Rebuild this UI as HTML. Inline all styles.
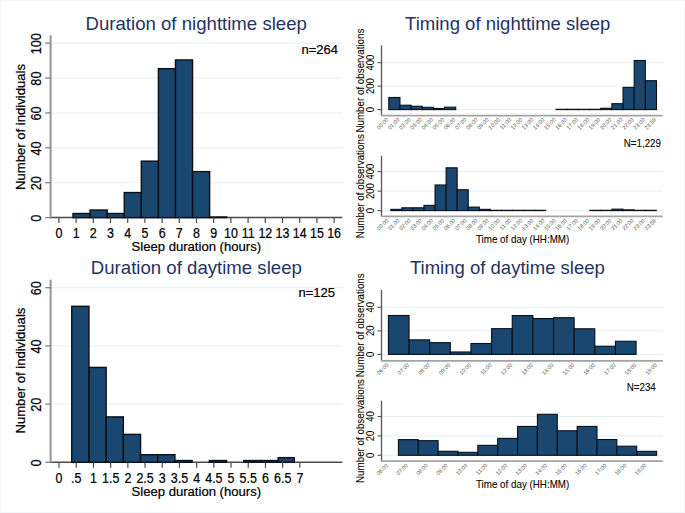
<!DOCTYPE html>
<html><head><meta charset="utf-8"><style>
html,body{margin:0;padding:0;background:#fff;}
svg{display:block;}
text{font-family:"Liberation Sans", sans-serif;}
</style></head><body>
<svg width="685" height="513" viewBox="0 0 685 513">
<rect x="0" y="0" width="685" height="513" fill="#fff"/>
<rect x="0.5" y="0.5" width="684" height="512" fill="none" stroke="#f4f6f8" stroke-width="1"/>
<text x="0" y="0" font-size="18.62" text-anchor="middle" fill="#253362" transform="translate(196.2 29.5) scale(1.0 1.03)">Duration of nighttime sleep</text>
<line x1="51.5" y1="182.7" x2="342.5" y2="182.7" stroke="#e7eff1" stroke-width="1"/>
<line x1="51.5" y1="147.8" x2="342.5" y2="147.8" stroke="#e7eff1" stroke-width="1"/>
<line x1="51.5" y1="112.9" x2="342.5" y2="112.9" stroke="#e7eff1" stroke-width="1"/>
<line x1="51.5" y1="78" x2="342.5" y2="78" stroke="#e7eff1" stroke-width="1"/>
<line x1="51.5" y1="43.1" x2="342.5" y2="43.1" stroke="#e7eff1" stroke-width="1"/>
<line x1="50" y1="217.6" x2="342.3" y2="217.6" stroke="#4a4a4a" stroke-width="1.5"/>
<rect x="73" y="213.51" width="17.08" height="4.09" fill="#1a476f" stroke="#0a0f16" stroke-width="1.4"/>
<rect x="90.08" y="210.02" width="17.08" height="7.58" fill="#1a476f" stroke="#0a0f16" stroke-width="1.4"/>
<rect x="107.16" y="213.51" width="17.08" height="4.09" fill="#1a476f" stroke="#0a0f16" stroke-width="1.4"/>
<rect x="124.24" y="192.57" width="17.08" height="25.03" fill="#1a476f" stroke="#0a0f16" stroke-width="1.4"/>
<rect x="141.32" y="161.16" width="17.08" height="56.44" fill="#1a476f" stroke="#0a0f16" stroke-width="1.4"/>
<rect x="158.4" y="68.68" width="17.08" height="148.92" fill="#1a476f" stroke="#0a0f16" stroke-width="1.4"/>
<rect x="175.48" y="59.95" width="17.08" height="157.65" fill="#1a476f" stroke="#0a0f16" stroke-width="1.4"/>
<rect x="192.56" y="171.63" width="17.08" height="45.97" fill="#1a476f" stroke="#0a0f16" stroke-width="1.4"/>
<rect x="209.64" y="217" width="17.08" height="0.6" fill="#1a476f" stroke="#0a0f16" stroke-width="1.4"/>
<line x1="50.6" y1="35.3" x2="50.6" y2="218.4" stroke="#999" stroke-width="2.1"/>
<line x1="45.2" y1="217.6" x2="50.7" y2="217.6" stroke="#7a7a7a" stroke-width="1.2"/>
<text x="0" y="0" font-size="13.1" text-anchor="middle" fill="#000" stroke="#000" stroke-width="0.22" transform="translate(40.6 218.2) rotate(-90) scale(0.97 1.1)">0</text>
<line x1="45.2" y1="182.7" x2="50.7" y2="182.7" stroke="#7a7a7a" stroke-width="1.2"/>
<text x="0" y="0" font-size="13.1" text-anchor="middle" fill="#000" stroke="#000" stroke-width="0.22" transform="translate(40.6 183.3) rotate(-90) scale(0.97 1.1)">20</text>
<line x1="45.2" y1="147.8" x2="50.7" y2="147.8" stroke="#7a7a7a" stroke-width="1.2"/>
<text x="0" y="0" font-size="13.1" text-anchor="middle" fill="#000" stroke="#000" stroke-width="0.22" transform="translate(40.6 148.4) rotate(-90) scale(0.97 1.1)">40</text>
<line x1="45.2" y1="112.9" x2="50.7" y2="112.9" stroke="#7a7a7a" stroke-width="1.2"/>
<text x="0" y="0" font-size="13.1" text-anchor="middle" fill="#000" stroke="#000" stroke-width="0.22" transform="translate(40.6 113.5) rotate(-90) scale(0.97 1.1)">60</text>
<line x1="45.2" y1="78" x2="50.7" y2="78" stroke="#7a7a7a" stroke-width="1.2"/>
<text x="0" y="0" font-size="13.1" text-anchor="middle" fill="#000" stroke="#000" stroke-width="0.22" transform="translate(40.6 78.6) rotate(-90) scale(0.97 1.1)">80</text>
<line x1="45.2" y1="43.1" x2="50.7" y2="43.1" stroke="#7a7a7a" stroke-width="1.2"/>
<text x="0" y="0" font-size="13.1" text-anchor="middle" fill="#000" stroke="#000" stroke-width="0.22" transform="translate(40.6 43.7) rotate(-90) scale(0.97 1.1)">100</text>
<line x1="58.9" y1="217.6" x2="58.9" y2="223.1" stroke="#4a4a4a" stroke-width="1.2"/>
<text x="0" y="0" font-size="13.1" text-anchor="middle" fill="#000" stroke="#000" stroke-width="0.22" transform="translate(58.9 237.5) scale(0.95 1.1)">0</text>
<line x1="76.1" y1="217.6" x2="76.1" y2="223.1" stroke="#4a4a4a" stroke-width="1.2"/>
<text x="0" y="0" font-size="13.1" text-anchor="middle" fill="#000" stroke="#000" stroke-width="0.22" transform="translate(76.1 237.5) scale(0.95 1.1)">1</text>
<line x1="93.3" y1="217.6" x2="93.3" y2="223.1" stroke="#4a4a4a" stroke-width="1.2"/>
<text x="0" y="0" font-size="13.1" text-anchor="middle" fill="#000" stroke="#000" stroke-width="0.22" transform="translate(93.3 237.5) scale(0.95 1.1)">2</text>
<line x1="110.5" y1="217.6" x2="110.5" y2="223.1" stroke="#4a4a4a" stroke-width="1.2"/>
<text x="0" y="0" font-size="13.1" text-anchor="middle" fill="#000" stroke="#000" stroke-width="0.22" transform="translate(110.5 237.5) scale(0.95 1.1)">3</text>
<line x1="127.7" y1="217.6" x2="127.7" y2="223.1" stroke="#4a4a4a" stroke-width="1.2"/>
<text x="0" y="0" font-size="13.1" text-anchor="middle" fill="#000" stroke="#000" stroke-width="0.22" transform="translate(127.7 237.5) scale(0.95 1.1)">4</text>
<line x1="144.9" y1="217.6" x2="144.9" y2="223.1" stroke="#4a4a4a" stroke-width="1.2"/>
<text x="0" y="0" font-size="13.1" text-anchor="middle" fill="#000" stroke="#000" stroke-width="0.22" transform="translate(144.9 237.5) scale(0.95 1.1)">5</text>
<line x1="162.1" y1="217.6" x2="162.1" y2="223.1" stroke="#4a4a4a" stroke-width="1.2"/>
<text x="0" y="0" font-size="13.1" text-anchor="middle" fill="#000" stroke="#000" stroke-width="0.22" transform="translate(162.1 237.5) scale(0.95 1.1)">6</text>
<line x1="179.3" y1="217.6" x2="179.3" y2="223.1" stroke="#4a4a4a" stroke-width="1.2"/>
<text x="0" y="0" font-size="13.1" text-anchor="middle" fill="#000" stroke="#000" stroke-width="0.22" transform="translate(179.3 237.5) scale(0.95 1.1)">7</text>
<line x1="196.5" y1="217.6" x2="196.5" y2="223.1" stroke="#4a4a4a" stroke-width="1.2"/>
<text x="0" y="0" font-size="13.1" text-anchor="middle" fill="#000" stroke="#000" stroke-width="0.22" transform="translate(196.5 237.5) scale(0.95 1.1)">8</text>
<line x1="213.7" y1="217.6" x2="213.7" y2="223.1" stroke="#4a4a4a" stroke-width="1.2"/>
<text x="0" y="0" font-size="13.1" text-anchor="middle" fill="#000" stroke="#000" stroke-width="0.22" transform="translate(213.7 237.5) scale(0.95 1.1)">9</text>
<line x1="230.9" y1="217.6" x2="230.9" y2="223.1" stroke="#4a4a4a" stroke-width="1.2"/>
<text x="0" y="0" font-size="13.1" text-anchor="middle" fill="#000" stroke="#000" stroke-width="0.22" transform="translate(230.9 237.5) scale(0.95 1.1)">10</text>
<line x1="248.1" y1="217.6" x2="248.1" y2="223.1" stroke="#4a4a4a" stroke-width="1.2"/>
<text x="0" y="0" font-size="13.1" text-anchor="middle" fill="#000" stroke="#000" stroke-width="0.22" transform="translate(248.1 237.5) scale(0.95 1.1)">11</text>
<line x1="265.3" y1="217.6" x2="265.3" y2="223.1" stroke="#4a4a4a" stroke-width="1.2"/>
<text x="0" y="0" font-size="13.1" text-anchor="middle" fill="#000" stroke="#000" stroke-width="0.22" transform="translate(265.3 237.5) scale(0.95 1.1)">12</text>
<line x1="282.5" y1="217.6" x2="282.5" y2="223.1" stroke="#4a4a4a" stroke-width="1.2"/>
<text x="0" y="0" font-size="13.1" text-anchor="middle" fill="#000" stroke="#000" stroke-width="0.22" transform="translate(282.5 237.5) scale(0.95 1.1)">13</text>
<line x1="299.7" y1="217.6" x2="299.7" y2="223.1" stroke="#4a4a4a" stroke-width="1.2"/>
<text x="0" y="0" font-size="13.1" text-anchor="middle" fill="#000" stroke="#000" stroke-width="0.22" transform="translate(299.7 237.5) scale(0.95 1.1)">14</text>
<line x1="316.9" y1="217.6" x2="316.9" y2="223.1" stroke="#4a4a4a" stroke-width="1.2"/>
<text x="0" y="0" font-size="13.1" text-anchor="middle" fill="#000" stroke="#000" stroke-width="0.22" transform="translate(316.9 237.5) scale(0.95 1.1)">15</text>
<line x1="334.1" y1="217.6" x2="334.1" y2="223.1" stroke="#4a4a4a" stroke-width="1.2"/>
<text x="0" y="0" font-size="13.1" text-anchor="middle" fill="#000" stroke="#000" stroke-width="0.22" transform="translate(334.1 237.5) scale(0.95 1.1)">16</text>
<text x="0" y="0" font-size="13.1" text-anchor="middle" fill="#000" stroke="#000" stroke-width="0.22" transform="translate(196.3 250.8) scale(1.0 1.03)">Sleep duration (hours)</text>
<text x="0" y="0" font-size="13.1" text-anchor="middle" fill="#000" stroke="#000" stroke-width="0.22" transform="translate(25.2 127) rotate(-90) scale(1.0 1.02)">Number of individuals</text>
<text x="0" y="0" font-size="13" text-anchor="end" fill="#000" stroke="#000" stroke-width="0.22" transform="translate(337.9 53.5) scale(1.0 1.04)">n=264</text>
<text x="0" y="0" font-size="18.62" text-anchor="middle" fill="#253362" transform="translate(196.35 273.9) scale(1.0 1.03)">Duration of daytime sleep</text>
<line x1="51.5" y1="404.1" x2="342.5" y2="404.1" stroke="#e7eff1" stroke-width="1"/>
<line x1="51.5" y1="345.9" x2="342.5" y2="345.9" stroke="#e7eff1" stroke-width="1"/>
<line x1="51.5" y1="287.7" x2="342.5" y2="287.7" stroke="#e7eff1" stroke-width="1"/>
<line x1="50" y1="462.3" x2="342.3" y2="462.3" stroke="#4a4a4a" stroke-width="1.5"/>
<rect x="71.75" y="306.31" width="17.2" height="155.99" fill="#1a476f" stroke="#0a0f16" stroke-width="1.4"/>
<rect x="88.95" y="367.42" width="17.2" height="94.88" fill="#1a476f" stroke="#0a0f16" stroke-width="1.4"/>
<rect x="106.15" y="416.89" width="17.2" height="45.41" fill="#1a476f" stroke="#0a0f16" stroke-width="1.4"/>
<rect x="123.35" y="434.35" width="17.2" height="27.95" fill="#1a476f" stroke="#0a0f16" stroke-width="1.4"/>
<rect x="140.55" y="454.72" width="17.2" height="7.58" fill="#1a476f" stroke="#0a0f16" stroke-width="1.4"/>
<rect x="157.75" y="454.72" width="17.2" height="7.58" fill="#1a476f" stroke="#0a0f16" stroke-width="1.4"/>
<rect x="174.95" y="460.54" width="17.2" height="1.76" fill="#1a476f" stroke="#0a0f16" stroke-width="1.4"/>
<rect x="209.35" y="460.54" width="17.2" height="1.76" fill="#1a476f" stroke="#0a0f16" stroke-width="1.4"/>
<rect x="243.75" y="460.54" width="17.2" height="1.76" fill="#1a476f" stroke="#0a0f16" stroke-width="1.4"/>
<rect x="260.95" y="460.54" width="17.2" height="1.76" fill="#1a476f" stroke="#0a0f16" stroke-width="1.4"/>
<rect x="278.15" y="457.63" width="16.1" height="4.67" fill="#1a476f" stroke="#0a0f16" stroke-width="1.4"/>
<line x1="50.6" y1="279.7" x2="50.6" y2="463.1" stroke="#999" stroke-width="2.1"/>
<line x1="45.2" y1="462.3" x2="50.7" y2="462.3" stroke="#7a7a7a" stroke-width="1.2"/>
<text x="0" y="0" font-size="13.1" text-anchor="middle" fill="#000" stroke="#000" stroke-width="0.22" transform="translate(40.6 462.9) rotate(-90) scale(0.97 1.1)">0</text>
<line x1="45.2" y1="404.1" x2="50.7" y2="404.1" stroke="#7a7a7a" stroke-width="1.2"/>
<text x="0" y="0" font-size="13.1" text-anchor="middle" fill="#000" stroke="#000" stroke-width="0.22" transform="translate(40.6 404.7) rotate(-90) scale(0.97 1.1)">20</text>
<line x1="45.2" y1="345.9" x2="50.7" y2="345.9" stroke="#7a7a7a" stroke-width="1.2"/>
<text x="0" y="0" font-size="13.1" text-anchor="middle" fill="#000" stroke="#000" stroke-width="0.22" transform="translate(40.6 346.5) rotate(-90) scale(0.97 1.1)">40</text>
<line x1="45.2" y1="287.7" x2="50.7" y2="287.7" stroke="#7a7a7a" stroke-width="1.2"/>
<text x="0" y="0" font-size="13.1" text-anchor="middle" fill="#000" stroke="#000" stroke-width="0.22" transform="translate(40.6 288.3) rotate(-90) scale(0.97 1.1)">60</text>
<line x1="59.05" y1="462.3" x2="59.05" y2="467.8" stroke="#4a4a4a" stroke-width="1.2"/>
<text x="0" y="0" font-size="13.1" text-anchor="middle" fill="#000" stroke="#000" stroke-width="0.22" transform="translate(59.05 483.2) scale(0.95 1.1)">0</text>
<line x1="76.25" y1="462.3" x2="76.25" y2="467.8" stroke="#4a4a4a" stroke-width="1.2"/>
<text x="0" y="0" font-size="13.1" text-anchor="middle" fill="#000" stroke="#000" stroke-width="0.22" transform="translate(76.25 483.2) scale(0.95 1.1)">.5</text>
<line x1="93.45" y1="462.3" x2="93.45" y2="467.8" stroke="#4a4a4a" stroke-width="1.2"/>
<text x="0" y="0" font-size="13.1" text-anchor="middle" fill="#000" stroke="#000" stroke-width="0.22" transform="translate(93.45 483.2) scale(0.95 1.1)">1</text>
<line x1="110.65" y1="462.3" x2="110.65" y2="467.8" stroke="#4a4a4a" stroke-width="1.2"/>
<text x="0" y="0" font-size="13.1" text-anchor="middle" fill="#000" stroke="#000" stroke-width="0.22" transform="translate(110.65 483.2) scale(0.95 1.1)">1.5</text>
<line x1="127.85" y1="462.3" x2="127.85" y2="467.8" stroke="#4a4a4a" stroke-width="1.2"/>
<text x="0" y="0" font-size="13.1" text-anchor="middle" fill="#000" stroke="#000" stroke-width="0.22" transform="translate(127.85 483.2) scale(0.95 1.1)">2</text>
<line x1="145.05" y1="462.3" x2="145.05" y2="467.8" stroke="#4a4a4a" stroke-width="1.2"/>
<text x="0" y="0" font-size="13.1" text-anchor="middle" fill="#000" stroke="#000" stroke-width="0.22" transform="translate(145.05 483.2) scale(0.95 1.1)">2.5</text>
<line x1="162.25" y1="462.3" x2="162.25" y2="467.8" stroke="#4a4a4a" stroke-width="1.2"/>
<text x="0" y="0" font-size="13.1" text-anchor="middle" fill="#000" stroke="#000" stroke-width="0.22" transform="translate(162.25 483.2) scale(0.95 1.1)">3</text>
<line x1="179.45" y1="462.3" x2="179.45" y2="467.8" stroke="#4a4a4a" stroke-width="1.2"/>
<text x="0" y="0" font-size="13.1" text-anchor="middle" fill="#000" stroke="#000" stroke-width="0.22" transform="translate(179.45 483.2) scale(0.95 1.1)">3.5</text>
<line x1="196.65" y1="462.3" x2="196.65" y2="467.8" stroke="#4a4a4a" stroke-width="1.2"/>
<text x="0" y="0" font-size="13.1" text-anchor="middle" fill="#000" stroke="#000" stroke-width="0.22" transform="translate(196.65 483.2) scale(0.95 1.1)">4</text>
<line x1="213.85" y1="462.3" x2="213.85" y2="467.8" stroke="#4a4a4a" stroke-width="1.2"/>
<text x="0" y="0" font-size="13.1" text-anchor="middle" fill="#000" stroke="#000" stroke-width="0.22" transform="translate(213.85 483.2) scale(0.95 1.1)">4.5</text>
<line x1="231.05" y1="462.3" x2="231.05" y2="467.8" stroke="#4a4a4a" stroke-width="1.2"/>
<text x="0" y="0" font-size="13.1" text-anchor="middle" fill="#000" stroke="#000" stroke-width="0.22" transform="translate(231.05 483.2) scale(0.95 1.1)">5</text>
<line x1="248.25" y1="462.3" x2="248.25" y2="467.8" stroke="#4a4a4a" stroke-width="1.2"/>
<text x="0" y="0" font-size="13.1" text-anchor="middle" fill="#000" stroke="#000" stroke-width="0.22" transform="translate(248.25 483.2) scale(0.95 1.1)">5.5</text>
<line x1="265.45" y1="462.3" x2="265.45" y2="467.8" stroke="#4a4a4a" stroke-width="1.2"/>
<text x="0" y="0" font-size="13.1" text-anchor="middle" fill="#000" stroke="#000" stroke-width="0.22" transform="translate(265.45 483.2) scale(0.95 1.1)">6</text>
<line x1="282.65" y1="462.3" x2="282.65" y2="467.8" stroke="#4a4a4a" stroke-width="1.2"/>
<text x="0" y="0" font-size="13.1" text-anchor="middle" fill="#000" stroke="#000" stroke-width="0.22" transform="translate(282.65 483.2) scale(0.95 1.1)">6.5</text>
<line x1="299.85" y1="462.3" x2="299.85" y2="467.8" stroke="#4a4a4a" stroke-width="1.2"/>
<text x="0" y="0" font-size="13.1" text-anchor="middle" fill="#000" stroke="#000" stroke-width="0.22" transform="translate(299.85 483.2) scale(0.95 1.1)">7</text>
<text x="0" y="0" font-size="13.1" text-anchor="middle" fill="#000" stroke="#000" stroke-width="0.22" transform="translate(196.3 496.3) scale(1.0 1.03)">Sleep duration (hours)</text>
<text x="0" y="0" font-size="13.1" text-anchor="middle" fill="#000" stroke="#000" stroke-width="0.22" transform="translate(25.2 370.6) rotate(-90) scale(1.0 1.02)">Number of individuals</text>
<text x="0" y="0" font-size="13" text-anchor="end" fill="#000" stroke="#000" stroke-width="0.22" transform="translate(334.9 296.8) scale(1.0 1.04)">n=125</text>
<text x="507.7" y="29.6" font-size="18.55" text-anchor="middle" fill="#253362">Timing of nighttime sleep</text>
<line x1="382" y1="109.6" x2="662.8" y2="109.6" stroke="#e7eff1" stroke-width="1"/>
<line x1="382" y1="86.15" x2="662.8" y2="86.15" stroke="#e7eff1" stroke-width="1"/>
<line x1="382" y1="62.7" x2="662.8" y2="62.7" stroke="#e7eff1" stroke-width="1"/>
<rect x="388.8" y="97.47" width="11.15" height="12.13" fill="#1a476f" stroke="#0a0f16" stroke-width="1.1"/>
<rect x="399.95" y="105.21" width="11.15" height="4.39" fill="#1a476f" stroke="#0a0f16" stroke-width="1.1"/>
<rect x="411.11" y="106.26" width="11.15" height="3.34" fill="#1a476f" stroke="#0a0f16" stroke-width="1.1"/>
<rect x="422.26" y="107.32" width="11.15" height="2.28" fill="#1a476f" stroke="#0a0f16" stroke-width="1.1"/>
<rect x="433.42" y="108.49" width="11.15" height="1.11" fill="#1a476f" stroke="#0a0f16" stroke-width="1.1"/>
<rect x="444.57" y="107.2" width="11.15" height="2.4" fill="#1a476f" stroke="#0a0f16" stroke-width="1.1"/>
<rect x="556.11" y="109.3" width="11.15" height="0.3" fill="#1a476f" stroke="#0a0f16" stroke-width="1.1"/>
<rect x="567.26" y="109.3" width="11.15" height="0.3" fill="#1a476f" stroke="#0a0f16" stroke-width="1.1"/>
<rect x="578.42" y="109.3" width="11.15" height="0.3" fill="#1a476f" stroke="#0a0f16" stroke-width="1.1"/>
<rect x="589.57" y="109.3" width="11.15" height="0.3" fill="#1a476f" stroke="#0a0f16" stroke-width="1.1"/>
<rect x="600.73" y="108.25" width="11.15" height="1.34" fill="#1a476f" stroke="#0a0f16" stroke-width="1.1"/>
<rect x="611.88" y="103.68" width="11.15" height="5.92" fill="#1a476f" stroke="#0a0f16" stroke-width="1.1"/>
<rect x="623.03" y="87.38" width="11.15" height="22.22" fill="#1a476f" stroke="#0a0f16" stroke-width="1.1"/>
<rect x="634.19" y="60.53" width="11.15" height="49.07" fill="#1a476f" stroke="#0a0f16" stroke-width="1.1"/>
<rect x="645.34" y="80.7" width="11.15" height="28.9" fill="#1a476f" stroke="#0a0f16" stroke-width="1.1"/>
<line x1="381.5" y1="45.3" x2="381.5" y2="115.6" stroke="#555" stroke-width="1.3"/>
<line x1="377.5" y1="109.6" x2="381.5" y2="109.6" stroke="#555" stroke-width="1.1"/>
<text x="0" y="0" font-size="9.5" text-anchor="middle" fill="#000" stroke="#000" stroke-width="0.08" transform="translate(374.4 109.6) rotate(-90) scale(1.0 1.1)">0</text>
<line x1="377.5" y1="86.15" x2="381.5" y2="86.15" stroke="#555" stroke-width="1.1"/>
<text x="0" y="0" font-size="9.5" text-anchor="middle" fill="#000" stroke="#000" stroke-width="0.08" transform="translate(374.4 86.15) rotate(-90) scale(1.0 1.1)">200</text>
<line x1="377.5" y1="62.7" x2="381.5" y2="62.7" stroke="#555" stroke-width="1.1"/>
<text x="0" y="0" font-size="9.5" text-anchor="middle" fill="#000" stroke="#000" stroke-width="0.08" transform="translate(374.4 62.7) rotate(-90) scale(1.0 1.1)">400</text>
<line x1="381" y1="115.6" x2="662.8" y2="115.6" stroke="#a3a3a3" stroke-width="1.8"/>
<text x="388.8" y="120.2" font-size="5.5" text-anchor="end" fill="#4a4a4a" transform="rotate(-45 388.8 120.2)">00:00</text>
<text x="399.95" y="120.2" font-size="5.5" text-anchor="end" fill="#4a4a4a" transform="rotate(-45 399.95 120.2)">01:00</text>
<text x="411.11" y="120.2" font-size="5.5" text-anchor="end" fill="#4a4a4a" transform="rotate(-45 411.11 120.2)">02:00</text>
<text x="422.26" y="120.2" font-size="5.5" text-anchor="end" fill="#4a4a4a" transform="rotate(-45 422.26 120.2)">03:00</text>
<text x="433.42" y="120.2" font-size="5.5" text-anchor="end" fill="#4a4a4a" transform="rotate(-45 433.42 120.2)">04:00</text>
<text x="444.57" y="120.2" font-size="5.5" text-anchor="end" fill="#4a4a4a" transform="rotate(-45 444.57 120.2)">05:00</text>
<text x="455.72" y="120.2" font-size="5.5" text-anchor="end" fill="#4a4a4a" transform="rotate(-45 455.72 120.2)">06:00</text>
<text x="466.88" y="120.2" font-size="5.5" text-anchor="end" fill="#4a4a4a" transform="rotate(-45 466.88 120.2)">07:00</text>
<text x="478.03" y="120.2" font-size="5.5" text-anchor="end" fill="#4a4a4a" transform="rotate(-45 478.03 120.2)">08:00</text>
<text x="489.19" y="120.2" font-size="5.5" text-anchor="end" fill="#4a4a4a" transform="rotate(-45 489.19 120.2)">09:00</text>
<text x="500.34" y="120.2" font-size="5.5" text-anchor="end" fill="#4a4a4a" transform="rotate(-45 500.34 120.2)">10:00</text>
<text x="511.49" y="120.2" font-size="5.5" text-anchor="end" fill="#4a4a4a" transform="rotate(-45 511.49 120.2)">11:00</text>
<text x="522.65" y="120.2" font-size="5.5" text-anchor="end" fill="#4a4a4a" transform="rotate(-45 522.65 120.2)">12:00</text>
<text x="533.8" y="120.2" font-size="5.5" text-anchor="end" fill="#4a4a4a" transform="rotate(-45 533.8 120.2)">13:00</text>
<text x="544.96" y="120.2" font-size="5.5" text-anchor="end" fill="#4a4a4a" transform="rotate(-45 544.96 120.2)">14:00</text>
<text x="556.11" y="120.2" font-size="5.5" text-anchor="end" fill="#4a4a4a" transform="rotate(-45 556.11 120.2)">15:00</text>
<text x="567.26" y="120.2" font-size="5.5" text-anchor="end" fill="#4a4a4a" transform="rotate(-45 567.26 120.2)">16:00</text>
<text x="578.42" y="120.2" font-size="5.5" text-anchor="end" fill="#4a4a4a" transform="rotate(-45 578.42 120.2)">17:00</text>
<text x="589.57" y="120.2" font-size="5.5" text-anchor="end" fill="#4a4a4a" transform="rotate(-45 589.57 120.2)">18:00</text>
<text x="600.73" y="120.2" font-size="5.5" text-anchor="end" fill="#4a4a4a" transform="rotate(-45 600.73 120.2)">19:00</text>
<text x="611.88" y="120.2" font-size="5.5" text-anchor="end" fill="#4a4a4a" transform="rotate(-45 611.88 120.2)">20:00</text>
<text x="623.03" y="120.2" font-size="5.5" text-anchor="end" fill="#4a4a4a" transform="rotate(-45 623.03 120.2)">21:00</text>
<text x="634.19" y="120.2" font-size="5.5" text-anchor="end" fill="#4a4a4a" transform="rotate(-45 634.19 120.2)">22:00</text>
<text x="645.34" y="120.2" font-size="5.5" text-anchor="end" fill="#4a4a4a" transform="rotate(-45 645.34 120.2)">23:00</text>
<text x="656.5" y="120.2" font-size="5.5" text-anchor="end" fill="#4a4a4a" transform="rotate(-45 656.5 120.2)">23:59</text>
<text x="0" y="0" font-size="9.8" text-anchor="middle" fill="#000" stroke="#000" stroke-width="0.08" transform="translate(363.6 80.6) rotate(-90) scale(1.0 1.1)">Number of observations</text>
<text x="0" y="0" font-size="9.8" text-anchor="end" fill="#000" stroke="#000" stroke-width="0.08" transform="translate(661 146.9) scale(1.0 1.1)">N=1,229</text>
<line x1="382" y1="210.6" x2="662.8" y2="210.6" stroke="#e7eff1" stroke-width="1"/>
<line x1="382" y1="191.1" x2="662.8" y2="191.1" stroke="#e7eff1" stroke-width="1"/>
<line x1="382" y1="171.6" x2="662.8" y2="171.6" stroke="#e7eff1" stroke-width="1"/>
<rect x="390.8" y="209.36" width="11.06" height="1.24" fill="#1a476f" stroke="#0a0f16" stroke-width="1.1"/>
<rect x="401.86" y="207.8" width="11.06" height="2.8" fill="#1a476f" stroke="#0a0f16" stroke-width="1.1"/>
<rect x="412.92" y="207.8" width="11.06" height="2.8" fill="#1a476f" stroke="#0a0f16" stroke-width="1.1"/>
<rect x="423.98" y="205.36" width="11.06" height="5.24" fill="#1a476f" stroke="#0a0f16" stroke-width="1.1"/>
<rect x="435.04" y="184.98" width="11.06" height="25.62" fill="#1a476f" stroke="#0a0f16" stroke-width="1.1"/>
<rect x="446.1" y="167.82" width="11.06" height="42.78" fill="#1a476f" stroke="#0a0f16" stroke-width="1.1"/>
<rect x="457.16" y="189.76" width="11.06" height="20.84" fill="#1a476f" stroke="#0a0f16" stroke-width="1.1"/>
<rect x="468.22" y="207.11" width="11.06" height="3.49" fill="#1a476f" stroke="#0a0f16" stroke-width="1.1"/>
<rect x="479.28" y="209.36" width="11.06" height="1.24" fill="#1a476f" stroke="#0a0f16" stroke-width="1.1"/>
<rect x="490.34" y="210.3" width="11.06" height="0.3" fill="#1a476f" stroke="#0a0f16" stroke-width="1.1"/>
<rect x="501.4" y="210.3" width="11.06" height="0.3" fill="#1a476f" stroke="#0a0f16" stroke-width="1.1"/>
<rect x="512.46" y="210.3" width="11.06" height="0.3" fill="#1a476f" stroke="#0a0f16" stroke-width="1.1"/>
<rect x="523.52" y="210.3" width="11.06" height="0.3" fill="#1a476f" stroke="#0a0f16" stroke-width="1.1"/>
<rect x="534.58" y="210.3" width="11.06" height="0.3" fill="#1a476f" stroke="#0a0f16" stroke-width="1.1"/>
<rect x="589.88" y="210.3" width="11.06" height="0.3" fill="#1a476f" stroke="#0a0f16" stroke-width="1.1"/>
<rect x="600.94" y="210.3" width="11.06" height="0.3" fill="#1a476f" stroke="#0a0f16" stroke-width="1.1"/>
<rect x="612" y="209.16" width="11.06" height="1.44" fill="#1a476f" stroke="#0a0f16" stroke-width="1.1"/>
<rect x="623.06" y="209.84" width="11.06" height="0.75" fill="#1a476f" stroke="#0a0f16" stroke-width="1.1"/>
<rect x="634.12" y="210.3" width="11.06" height="0.3" fill="#1a476f" stroke="#0a0f16" stroke-width="1.1"/>
<rect x="645.18" y="210.3" width="11.06" height="0.3" fill="#1a476f" stroke="#0a0f16" stroke-width="1.1"/>
<line x1="381.5" y1="155.8" x2="381.5" y2="216.4" stroke="#555" stroke-width="1.3"/>
<line x1="377.5" y1="210.6" x2="381.5" y2="210.6" stroke="#555" stroke-width="1.1"/>
<text x="0" y="0" font-size="9.5" text-anchor="middle" fill="#000" stroke="#000" stroke-width="0.08" transform="translate(374.4 210.6) rotate(-90) scale(1.0 1.1)">0</text>
<line x1="377.5" y1="191.1" x2="381.5" y2="191.1" stroke="#555" stroke-width="1.1"/>
<text x="0" y="0" font-size="9.5" text-anchor="middle" fill="#000" stroke="#000" stroke-width="0.08" transform="translate(374.4 191.1) rotate(-90) scale(1.0 1.1)">200</text>
<line x1="377.5" y1="171.6" x2="381.5" y2="171.6" stroke="#555" stroke-width="1.1"/>
<text x="0" y="0" font-size="9.5" text-anchor="middle" fill="#000" stroke="#000" stroke-width="0.08" transform="translate(374.4 171.6) rotate(-90) scale(1.0 1.1)">400</text>
<line x1="381" y1="216.4" x2="662.8" y2="216.4" stroke="#a3a3a3" stroke-width="1.8"/>
<text x="388.8" y="221" font-size="5.5" text-anchor="end" fill="#4a4a4a" transform="rotate(-45 388.8 221)">00:00</text>
<text x="399.95" y="221" font-size="5.5" text-anchor="end" fill="#4a4a4a" transform="rotate(-45 399.95 221)">01:00</text>
<text x="411.11" y="221" font-size="5.5" text-anchor="end" fill="#4a4a4a" transform="rotate(-45 411.11 221)">02:00</text>
<text x="422.26" y="221" font-size="5.5" text-anchor="end" fill="#4a4a4a" transform="rotate(-45 422.26 221)">03:00</text>
<text x="433.42" y="221" font-size="5.5" text-anchor="end" fill="#4a4a4a" transform="rotate(-45 433.42 221)">04:00</text>
<text x="444.57" y="221" font-size="5.5" text-anchor="end" fill="#4a4a4a" transform="rotate(-45 444.57 221)">05:00</text>
<text x="455.72" y="221" font-size="5.5" text-anchor="end" fill="#4a4a4a" transform="rotate(-45 455.72 221)">06:00</text>
<text x="466.88" y="221" font-size="5.5" text-anchor="end" fill="#4a4a4a" transform="rotate(-45 466.88 221)">07:00</text>
<text x="478.03" y="221" font-size="5.5" text-anchor="end" fill="#4a4a4a" transform="rotate(-45 478.03 221)">08:00</text>
<text x="489.19" y="221" font-size="5.5" text-anchor="end" fill="#4a4a4a" transform="rotate(-45 489.19 221)">09:00</text>
<text x="500.34" y="221" font-size="5.5" text-anchor="end" fill="#4a4a4a" transform="rotate(-45 500.34 221)">10:00</text>
<text x="511.49" y="221" font-size="5.5" text-anchor="end" fill="#4a4a4a" transform="rotate(-45 511.49 221)">11:00</text>
<text x="522.65" y="221" font-size="5.5" text-anchor="end" fill="#4a4a4a" transform="rotate(-45 522.65 221)">12:00</text>
<text x="533.8" y="221" font-size="5.5" text-anchor="end" fill="#4a4a4a" transform="rotate(-45 533.8 221)">13:00</text>
<text x="544.96" y="221" font-size="5.5" text-anchor="end" fill="#4a4a4a" transform="rotate(-45 544.96 221)">14:00</text>
<text x="556.11" y="221" font-size="5.5" text-anchor="end" fill="#4a4a4a" transform="rotate(-45 556.11 221)">15:00</text>
<text x="567.26" y="221" font-size="5.5" text-anchor="end" fill="#4a4a4a" transform="rotate(-45 567.26 221)">16:00</text>
<text x="578.42" y="221" font-size="5.5" text-anchor="end" fill="#4a4a4a" transform="rotate(-45 578.42 221)">17:00</text>
<text x="589.57" y="221" font-size="5.5" text-anchor="end" fill="#4a4a4a" transform="rotate(-45 589.57 221)">18:00</text>
<text x="600.73" y="221" font-size="5.5" text-anchor="end" fill="#4a4a4a" transform="rotate(-45 600.73 221)">19:00</text>
<text x="611.88" y="221" font-size="5.5" text-anchor="end" fill="#4a4a4a" transform="rotate(-45 611.88 221)">20:00</text>
<text x="623.03" y="221" font-size="5.5" text-anchor="end" fill="#4a4a4a" transform="rotate(-45 623.03 221)">21:00</text>
<text x="634.19" y="221" font-size="5.5" text-anchor="end" fill="#4a4a4a" transform="rotate(-45 634.19 221)">22:00</text>
<text x="645.34" y="221" font-size="5.5" text-anchor="end" fill="#4a4a4a" transform="rotate(-45 645.34 221)">23:00</text>
<text x="656.5" y="221" font-size="5.5" text-anchor="end" fill="#4a4a4a" transform="rotate(-45 656.5 221)">23:59</text>
<text x="0" y="0" font-size="9.8" text-anchor="middle" fill="#000" stroke="#000" stroke-width="0.08" transform="translate(363.6 186.2) rotate(-90) scale(1.0 1.1)">Number of observations</text>
<text x="0" y="0" font-size="9.8" text-anchor="middle" fill="#000" stroke="#000" stroke-width="0.08" transform="translate(522.6 242.5) scale(1.0 1.09)">Time of day (HH:MM)</text>
<text x="507.4" y="274" font-size="18.55" text-anchor="middle" fill="#253362">Timing of daytime sleep</text>
<line x1="382" y1="354.4" x2="662.8" y2="354.4" stroke="#e7eff1" stroke-width="1"/>
<line x1="382" y1="330.84" x2="662.8" y2="330.84" stroke="#e7eff1" stroke-width="1"/>
<line x1="382" y1="307.28" x2="662.8" y2="307.28" stroke="#e7eff1" stroke-width="1"/>
<rect x="388.4" y="315.47" width="20.64" height="38.93" fill="#1a476f" stroke="#0a0f16" stroke-width="1.1"/>
<rect x="409.04" y="339.85" width="20.64" height="14.55" fill="#1a476f" stroke="#0a0f16" stroke-width="1.1"/>
<rect x="429.68" y="342.68" width="20.64" height="11.72" fill="#1a476f" stroke="#0a0f16" stroke-width="1.1"/>
<rect x="450.32" y="351.98" width="20.64" height="2.42" fill="#1a476f" stroke="#0a0f16" stroke-width="1.1"/>
<rect x="470.96" y="343.5" width="20.64" height="10.9" fill="#1a476f" stroke="#0a0f16" stroke-width="1.1"/>
<rect x="491.6" y="328.66" width="20.64" height="25.74" fill="#1a476f" stroke="#0a0f16" stroke-width="1.1"/>
<rect x="512.24" y="315.58" width="20.64" height="38.82" fill="#1a476f" stroke="#0a0f16" stroke-width="1.1"/>
<rect x="532.88" y="318.53" width="20.64" height="35.87" fill="#1a476f" stroke="#0a0f16" stroke-width="1.1"/>
<rect x="553.52" y="317.7" width="20.64" height="36.7" fill="#1a476f" stroke="#0a0f16" stroke-width="1.1"/>
<rect x="574.16" y="328.78" width="20.64" height="25.62" fill="#1a476f" stroke="#0a0f16" stroke-width="1.1"/>
<rect x="594.8" y="346.21" width="20.64" height="8.19" fill="#1a476f" stroke="#0a0f16" stroke-width="1.1"/>
<rect x="615.44" y="341.26" width="20.64" height="13.14" fill="#1a476f" stroke="#0a0f16" stroke-width="1.1"/>
<line x1="381.5" y1="289.8" x2="381.5" y2="360.8" stroke="#555" stroke-width="1.3"/>
<line x1="377.5" y1="354.4" x2="381.5" y2="354.4" stroke="#555" stroke-width="1.1"/>
<text x="0" y="0" font-size="9.5" text-anchor="middle" fill="#000" stroke="#000" stroke-width="0.08" transform="translate(374.4 354.4) rotate(-90) scale(1.0 1.1)">0</text>
<line x1="377.5" y1="330.84" x2="381.5" y2="330.84" stroke="#555" stroke-width="1.1"/>
<text x="0" y="0" font-size="9.5" text-anchor="middle" fill="#000" stroke="#000" stroke-width="0.08" transform="translate(374.4 330.84) rotate(-90) scale(1.0 1.1)">20</text>
<line x1="377.5" y1="307.28" x2="381.5" y2="307.28" stroke="#555" stroke-width="1.1"/>
<text x="0" y="0" font-size="9.5" text-anchor="middle" fill="#000" stroke="#000" stroke-width="0.08" transform="translate(374.4 307.28) rotate(-90) scale(1.0 1.1)">40</text>
<line x1="381" y1="360.8" x2="662.8" y2="360.8" stroke="#a3a3a3" stroke-width="1.8"/>
<text x="388.8" y="365.5" font-size="5.5" text-anchor="end" fill="#4a4a4a" transform="rotate(-45 388.8 365.5)">06:00</text>
<text x="409.46" y="365.5" font-size="5.5" text-anchor="end" fill="#4a4a4a" transform="rotate(-45 409.46 365.5)">07:00</text>
<text x="430.12" y="365.5" font-size="5.5" text-anchor="end" fill="#4a4a4a" transform="rotate(-45 430.12 365.5)">08:00</text>
<text x="450.78" y="365.5" font-size="5.5" text-anchor="end" fill="#4a4a4a" transform="rotate(-45 450.78 365.5)">09:00</text>
<text x="471.44" y="365.5" font-size="5.5" text-anchor="end" fill="#4a4a4a" transform="rotate(-45 471.44 365.5)">10:00</text>
<text x="492.1" y="365.5" font-size="5.5" text-anchor="end" fill="#4a4a4a" transform="rotate(-45 492.1 365.5)">11:00</text>
<text x="512.76" y="365.5" font-size="5.5" text-anchor="end" fill="#4a4a4a" transform="rotate(-45 512.76 365.5)">12:00</text>
<text x="533.42" y="365.5" font-size="5.5" text-anchor="end" fill="#4a4a4a" transform="rotate(-45 533.42 365.5)">13:00</text>
<text x="554.08" y="365.5" font-size="5.5" text-anchor="end" fill="#4a4a4a" transform="rotate(-45 554.08 365.5)">14:00</text>
<text x="574.74" y="365.5" font-size="5.5" text-anchor="end" fill="#4a4a4a" transform="rotate(-45 574.74 365.5)">15:00</text>
<text x="595.4" y="365.5" font-size="5.5" text-anchor="end" fill="#4a4a4a" transform="rotate(-45 595.4 365.5)">16:00</text>
<text x="616.06" y="365.5" font-size="5.5" text-anchor="end" fill="#4a4a4a" transform="rotate(-45 616.06 365.5)">17:00</text>
<text x="636.72" y="365.5" font-size="5.5" text-anchor="end" fill="#4a4a4a" transform="rotate(-45 636.72 365.5)">18:00</text>
<text x="657.38" y="365.5" font-size="5.5" text-anchor="end" fill="#4a4a4a" transform="rotate(-45 657.38 365.5)">19:00</text>
<text x="0" y="0" font-size="9.8" text-anchor="middle" fill="#000" stroke="#000" stroke-width="0.08" transform="translate(363.6 325.3) rotate(-90) scale(1.0 1.1)">Number of observations</text>
<text x="0" y="0" font-size="9.8" text-anchor="end" fill="#000" stroke="#000" stroke-width="0.08" transform="translate(655.8 391.1) scale(1.0 1.1)">N=234</text>
<line x1="382" y1="455.3" x2="662.8" y2="455.3" stroke="#e7eff1" stroke-width="1"/>
<line x1="382" y1="435.9" x2="662.8" y2="435.9" stroke="#e7eff1" stroke-width="1"/>
<line x1="382" y1="416.5" x2="662.8" y2="416.5" stroke="#e7eff1" stroke-width="1"/>
<rect x="398.4" y="439.62" width="19.86" height="15.68" fill="#1a476f" stroke="#0a0f16" stroke-width="1.1"/>
<rect x="418.26" y="440.68" width="19.86" height="14.62" fill="#1a476f" stroke="#0a0f16" stroke-width="1.1"/>
<rect x="438.12" y="451.26" width="19.86" height="4.04" fill="#1a476f" stroke="#0a0f16" stroke-width="1.1"/>
<rect x="457.98" y="452.32" width="19.86" height="2.98" fill="#1a476f" stroke="#0a0f16" stroke-width="1.1"/>
<rect x="477.84" y="445.34" width="19.86" height="9.96" fill="#1a476f" stroke="#0a0f16" stroke-width="1.1"/>
<rect x="497.7" y="438.36" width="19.86" height="16.94" fill="#1a476f" stroke="#0a0f16" stroke-width="1.1"/>
<rect x="517.56" y="426.42" width="19.86" height="28.88" fill="#1a476f" stroke="#0a0f16" stroke-width="1.1"/>
<rect x="537.42" y="414.3" width="19.86" height="41" fill="#1a476f" stroke="#0a0f16" stroke-width="1.1"/>
<rect x="557.28" y="430.79" width="19.86" height="24.51" fill="#1a476f" stroke="#0a0f16" stroke-width="1.1"/>
<rect x="577.14" y="426.42" width="19.86" height="28.88" fill="#1a476f" stroke="#0a0f16" stroke-width="1.1"/>
<rect x="597" y="439.52" width="19.86" height="15.78" fill="#1a476f" stroke="#0a0f16" stroke-width="1.1"/>
<rect x="616.86" y="446.21" width="19.86" height="9.09" fill="#1a476f" stroke="#0a0f16" stroke-width="1.1"/>
<rect x="636.72" y="451.35" width="19.86" height="3.95" fill="#1a476f" stroke="#0a0f16" stroke-width="1.1"/>
<line x1="381.5" y1="400.6" x2="381.5" y2="461.2" stroke="#555" stroke-width="1.3"/>
<line x1="377.5" y1="455.3" x2="381.5" y2="455.3" stroke="#555" stroke-width="1.1"/>
<text x="0" y="0" font-size="9.5" text-anchor="middle" fill="#000" stroke="#000" stroke-width="0.08" transform="translate(374.4 455.3) rotate(-90) scale(1.0 1.1)">0</text>
<line x1="377.5" y1="435.9" x2="381.5" y2="435.9" stroke="#555" stroke-width="1.1"/>
<text x="0" y="0" font-size="9.5" text-anchor="middle" fill="#000" stroke="#000" stroke-width="0.08" transform="translate(374.4 435.9) rotate(-90) scale(1.0 1.1)">20</text>
<line x1="377.5" y1="416.5" x2="381.5" y2="416.5" stroke="#555" stroke-width="1.1"/>
<text x="0" y="0" font-size="9.5" text-anchor="middle" fill="#000" stroke="#000" stroke-width="0.08" transform="translate(374.4 416.5) rotate(-90) scale(1.0 1.1)">40</text>
<line x1="381" y1="461.2" x2="662.8" y2="461.2" stroke="#a3a3a3" stroke-width="1.8"/>
<text x="388.4" y="465.8" font-size="5.5" text-anchor="end" fill="#4a4a4a" transform="rotate(-45 388.4 465.8)">06:00</text>
<text x="408.27" y="465.8" font-size="5.5" text-anchor="end" fill="#4a4a4a" transform="rotate(-45 408.27 465.8)">07:00</text>
<text x="428.14" y="465.8" font-size="5.5" text-anchor="end" fill="#4a4a4a" transform="rotate(-45 428.14 465.8)">08:00</text>
<text x="448.01" y="465.8" font-size="5.5" text-anchor="end" fill="#4a4a4a" transform="rotate(-45 448.01 465.8)">09:00</text>
<text x="467.88" y="465.8" font-size="5.5" text-anchor="end" fill="#4a4a4a" transform="rotate(-45 467.88 465.8)">10:00</text>
<text x="487.75" y="465.8" font-size="5.5" text-anchor="end" fill="#4a4a4a" transform="rotate(-45 487.75 465.8)">11:00</text>
<text x="507.62" y="465.8" font-size="5.5" text-anchor="end" fill="#4a4a4a" transform="rotate(-45 507.62 465.8)">12:00</text>
<text x="527.49" y="465.8" font-size="5.5" text-anchor="end" fill="#4a4a4a" transform="rotate(-45 527.49 465.8)">13:00</text>
<text x="547.36" y="465.8" font-size="5.5" text-anchor="end" fill="#4a4a4a" transform="rotate(-45 547.36 465.8)">14:00</text>
<text x="567.23" y="465.8" font-size="5.5" text-anchor="end" fill="#4a4a4a" transform="rotate(-45 567.23 465.8)">15:00</text>
<text x="587.1" y="465.8" font-size="5.5" text-anchor="end" fill="#4a4a4a" transform="rotate(-45 587.1 465.8)">16:00</text>
<text x="606.97" y="465.8" font-size="5.5" text-anchor="end" fill="#4a4a4a" transform="rotate(-45 606.97 465.8)">17:00</text>
<text x="626.84" y="465.8" font-size="5.5" text-anchor="end" fill="#4a4a4a" transform="rotate(-45 626.84 465.8)">18:00</text>
<text x="646.71" y="465.8" font-size="5.5" text-anchor="end" fill="#4a4a4a" transform="rotate(-45 646.71 465.8)">19:00</text>
<text x="0" y="0" font-size="9.8" text-anchor="middle" fill="#000" stroke="#000" stroke-width="0.08" transform="translate(363.6 431) rotate(-90) scale(1.0 1.1)">Number of observations</text>
<text x="0" y="0" font-size="9.8" text-anchor="middle" fill="#000" stroke="#000" stroke-width="0.08" transform="translate(522.6 488) scale(1.0 1.09)">Time of day (HH:MM)</text>
</svg>
</body></html>
